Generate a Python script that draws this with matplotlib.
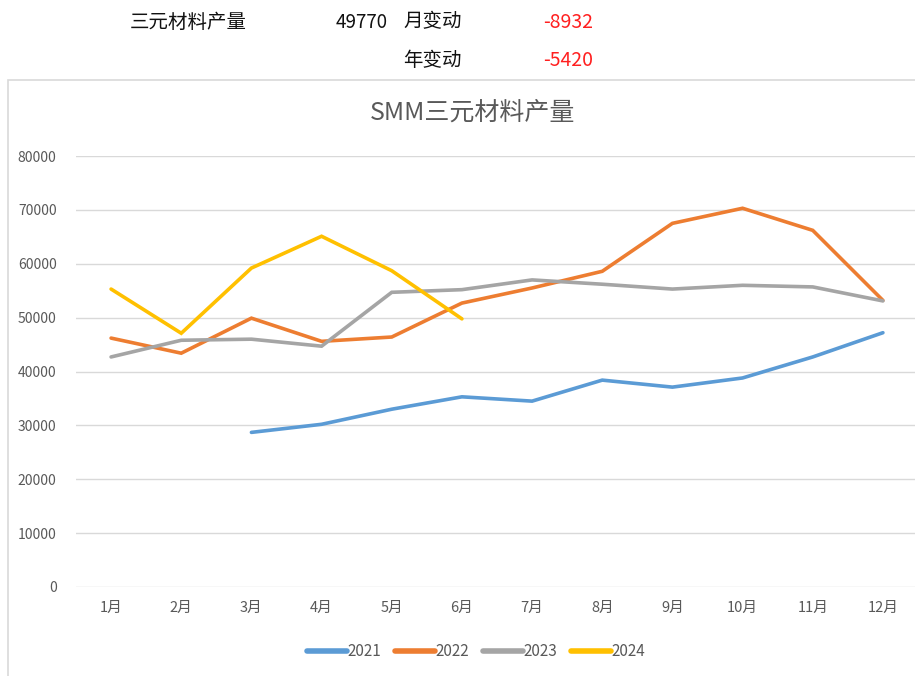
import matplotlib.pyplot as plt
from matplotlib.patches import Rectangle

plt.rcParams['font.family'] = ['Noto Sans CJK SC', 'DejaVu Sans']

months = ['1月', '2月', '3月', '4月', '5月', '6月', '7月', '8月', '9月', '10月', '11月', '12月']
y2021 = [None, None, 28700, 30200, 33000, 35300, 34500, 38400, 37100, 38800, 42700, 47200]
y2022 = [46200, 43400, 49900, 45600, 46400, 52700, 55500, 58600, 67500, 70300, 66200, 53200]
y2023 = [42700, 45800, 46000, 44700, 54700, 55190, 57000, 56200, 55300, 56000, 55700, 53100]
y2024 = [55300, 47100, 59200, 65100, 58702, 49770]
years = ['2021', '2022', '2023', '2024']
colors = ['#5B9BD5', '#ED7D31', '#A5A5A5', '#FFC000']

W, H = 915, 676
fig = plt.figure(figsize=(W / 100, H / 100), dpi=100)

# header cells above the chart
fig.text(130 / W, 1 - 22 / H, '三元材料产量', fontsize=14, va='center', ha='left', color='#111111')
fig.text(388 / W, 1 - 22 / H, '49770', fontsize=13.5, va='center', ha='right', color='#111111')
fig.text(403 / W, 1 - 22 / H, '月变动', fontsize=14, va='center', ha='left', color='#111111')
fig.text(593 / W, 1 - 22 / H, '-8932', fontsize=14, va='center', ha='right', color='#FF2020')
fig.text(403 / W, 1 - 61 / H, '年变动', fontsize=14, va='center', ha='left', color='#111111')
fig.text(593 / W, 1 - 61 / H, '-5420', fontsize=14, va='center', ha='right', color='#FF2020')

# chart frame
fig.patches.append(Rectangle((8 / W, -0.01), 1.0, 1 - 80 / H + 0.01, transform=fig.transFigure,
                             fill=False, edgecolor='#D9D9D9', linewidth=1.2))

ax = fig.add_axes([76 / W, 1 - 587 / H, (918 - 76) / W, (587 - 156) / H])
x = list(range(len(months)))
for name, vals, c in zip(years, [y2021, y2022, y2023, y2024], colors):
    xs = [i for i, v in zip(x, vals) if v is not None]
    ys = [v for v in vals if v is not None]
    ax.plot(xs, ys, color=c, linewidth=2.6, label=name, solid_capstyle='round', solid_joinstyle='miter')

ax.set_xlim(-0.5, 11.5)
ax.set_ylim(0, 80000)
ax.set_yticks(range(0, 80001, 10000))
ax.set_xticks(x)
ax.set_xticklabels(months)
ax.tick_params(axis='both', length=0, labelsize=10, labelcolor='#595959')
ax.tick_params(axis='x', labelsize=10.5)
ax.tick_params(axis='y', pad=14)
ax.tick_params(axis='x', pad=10)
ax.grid(axis='y', color='#D9D9D9', linewidth=1)
ax.set_axisbelow(True)
for s in ax.spines.values():
    s.set_visible(False)

fig.text(473 / W, 1 - 113 / H, 'SMM三元材料产量', fontsize=18, ha='center', va='center', color='#595959')

leg = fig.legend(loc='center', bbox_to_anchor=(476 / W, 1 - 652 / H), ncol=4, frameon=False,
                 fontsize=11, handlelength=2.6, handletextpad=0.05, columnspacing=0.9)
for t in leg.get_texts():
    t.set_color('#595959')
for h in leg.get_lines():
    h.set_linewidth(4)

fig.savefig('out.png', dpi=100)
